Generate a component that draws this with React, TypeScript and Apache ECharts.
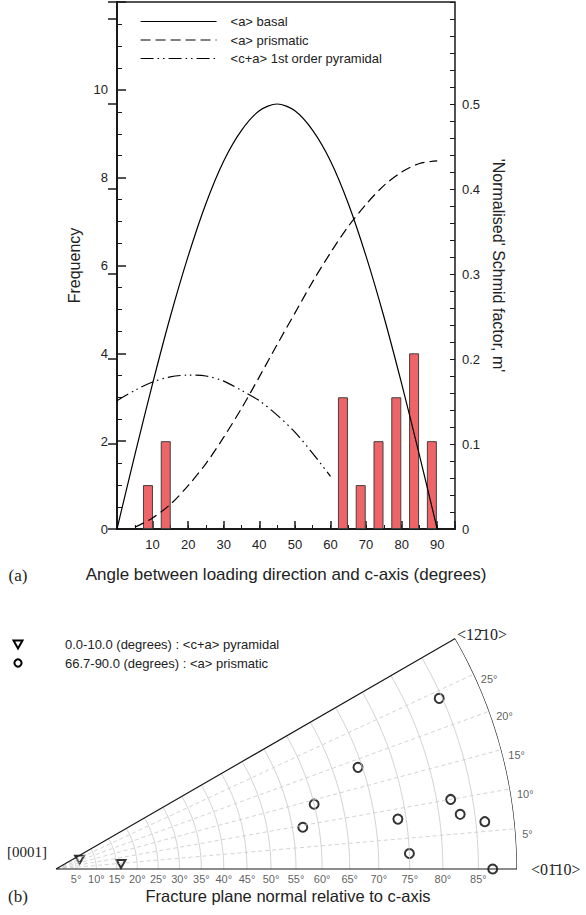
import React, { useEffect, useRef } from 'react';
import * as echarts from 'echarts';

// ---------------- Panel (a): histogram + Schmid factor curves ----------------
const BIN_CENTRES = [8.7, 13.7, 63.5, 68.5, 73.5, 78.5, 83.5, 88.5];
const FREQUENCIES = [1, 2, 3, 1, 2, 3, 4, 2];

const BASAL_ANGLES = [0, 5, 10, 15, 20, 25, 30, 35, 40, 45, 50, 55, 60, 65, 70, 75, 80, 85, 90];
const BASAL_M = [0, 0.087, 0.171, 0.25, 0.321, 0.383, 0.433, 0.469, 0.492, 0.5, 0.492, 0.469, 0.433, 0.383, 0.321, 0.25, 0.171, 0.087, 0];

const PRISMATIC_ANGLES = [5, 10, 15, 20, 25, 30, 35, 40, 45, 50, 55, 60, 65, 70, 75, 80, 85, 90];
const PRISMATIC_M = [0.002, 0.013, 0.029, 0.051, 0.077, 0.108, 0.142, 0.179, 0.217, 0.254, 0.291, 0.325, 0.356, 0.382, 0.404, 0.42, 0.43, 0.433];

const PYRAMIDAL_ANGLES = [0, 5, 10, 15, 20, 25, 30, 35, 40, 45, 50, 55, 60];
const PYRAMIDAL_M = [0.151, 0.163, 0.173, 0.179, 0.181, 0.18, 0.174, 0.163, 0.151, 0.134, 0.114, 0.089, 0.062];

const SERIES_NAMES = ['<a> basal', '<a> prismatic', '<c+a> 1st order pyramidal'];

// ---------------- Panel (b): stereographic sector ----------------
// polar angle from c-axis (theta) and azimuth from <0-110> (phi), degrees
const PYR_THETA = [6.3, 16.1];
const PYR_PHI = [21.7, 4.4];
const PRIS_THETA = [84.6, 69.3, 60.0, 57.0, 73.7, 75.0, 82.0, 83.0, 86.2, 86.9];
const PRIS_PHI = [24.0, 18.6, 14.1, 9.6, 8.3, 2.5, 10.0, 7.7, 6.3, 0.0];

const THETA_GRID = [5, 10, 15, 20, 25, 30, 35, 40, 45, 50, 55, 60, 65, 70, 75, 80, 85];
const PHI_GRID = [5, 10, 15, 20, 25];
const SECTOR_SPAN = 30;

const SANS = '"Liberation Sans", Arial, Helvetica, sans-serif';
const SERIF = '"Liberation Serif", "Times New Roman", serif';
const INK = '#1a1a1a';

// stereographic projection of the polar angle (radius on the unit equator circle)
const stereo = (theta: number) => Math.tan((theta * Math.PI) / 360);

function buildOption() {
  const sweep: number[] = [];
  for (let a = 0; a <= SECTOR_SPAN; a += 1) sweep.push(a);

  const arcSeries = THETA_GRID.map((t) => ({
    type: 'line',
    coordinateSystem: 'polar',
    polarIndex: 0,
    silent: true,
    symbol: 'none',
    lineStyle: { color: '#c8c8c8', width: 0.8 },
    data: sweep.map((a) => [stereo(t), a]),
  }));

  const radialSeries = PHI_GRID.map((p) => ({
    type: 'line',
    coordinateSystem: 'polar',
    polarIndex: 0,
    silent: true,
    symbol: 'none',
    lineStyle: { color: '#c8c8c8', width: 0.8, type: [4, 3] },
    data: [[0, p], [1, p]],
  }));

  const boundary = {
    type: 'line',
    coordinateSystem: 'polar',
    polarIndex: 0,
    silent: true,
    symbol: 'none',
    lineStyle: { color: INK, width: 1.2 },
    data: [[0, 0], ...sweep.map((a) => [1, a]), [0, SECTOR_SPAN]],
  };

  const thetaLabels = {
    type: 'scatter',
    coordinateSystem: 'polar',
    polarIndex: 0,
    silent: true,
    symbolSize: 0,
    itemStyle: { color: '#333' },
    label: {
      show: true,
      position: 'bottom',
      distance: 4,
      formatter: '{b}',
      fontSize: 11,
      fontFamily: SANS,
      color: '#333',
    },
    data: THETA_GRID.map((t) => ({ name: `${t}°`, value: [stereo(t), 0] })),
  };

  const phiLabels = {
    type: 'scatter',
    coordinateSystem: 'polar',
    polarIndex: 0,
    silent: true,
    symbolSize: 0,
    itemStyle: { color: '#333' },
    label: {
      show: true,
      position: 'right',
      distance: 7,
      offset: [0, 5],
      formatter: '{b}',
      fontSize: 11,
      fontFamily: SANS,
      color: '#333',
    },
    data: PHI_GRID.map((p) => ({ name: `${p}°`, value: [1, p] })),
  };

  const pyrPoints = {
    type: 'scatter',
    coordinateSystem: 'polar',
    polarIndex: 0,
    symbol: 'triangle',
    symbolRotate: 180,
    symbolSize: [9, 8],
    itemStyle: { color: '#fff', borderColor: '#000', borderWidth: 2 },
    data: PYR_THETA.map((t, i) => [stereo(t), PYR_PHI[i]]),
  };

  const prisPoints = {
    type: 'scatter',
    coordinateSystem: 'polar',
    polarIndex: 0,
    symbol: 'circle',
    symbolSize: 9,
    itemStyle: { color: '#fff', borderColor: '#000', borderWidth: 2 },
    data: PRIS_THETA.map((t, i) => [stereo(t), PRIS_PHI[i]]),
  };

  const lineBase = {
    type: 'line',
    xAxisIndex: 0,
    yAxisIndex: 1,
    symbol: 'none',
    smooth: 0.3,
    z: 3,
    itemStyle: { color: '#000' },
  };

  const centred = {
    textAlign: 'center',
    align: 'center',
    textVerticalAlign: 'middle',
    verticalAlign: 'middle',
  };

  return {
    animation: false,
    backgroundColor: '#fff',
    textStyle: { fontFamily: SANS },
    grid: {
      left: 117,
      right: 131,
      top: 2,
      bottom: 386,
      show: true,
      borderColor: INK,
      borderWidth: 1.5,
      backgroundColor: 'transparent',
    },
    legend: {
      data: SERIES_NAMES,
      orient: 'vertical',
      left: 135,
      top: 10,
      itemWidth: 76,
      itemHeight: 12,
      itemGap: 5.5,
      itemStyle: { color: 'rgba(0,0,0,0)', borderColor: 'rgba(0,0,0,0)', borderWidth: 0, opacity: 0 },
      lineStyle: { width: 1.1 },
      textStyle: { fontSize: 13, color: '#222', fontFamily: SANS, padding: [0, 0, 0, 9] },
      selectedMode: false,
    },
    xAxis: [
      {
        type: 'value',
        gridIndex: 0,
        min: 0,
        max: 95,
        interval: 10,
        axisLine: { show: true, lineStyle: { color: INK, width: 2 } },
        axisTick: { show: true, inside: true, length: 8, lineStyle: { color: INK, width: 1.5 } },
        splitLine: { show: false },
        axisLabel: {
          formatter: (v: number) => (v === 0 || v > 90 ? '' : String(v)),
          fontSize: 13,
          color: '#222',
          margin: 9,
          fontFamily: SANS,
        },
        name: 'Angle between loading direction and c-axis (degrees)',
        nameLocation: 'middle',
        nameGap: 37,
        nameTextStyle: { fontSize: 17, color: '#222', fontFamily: SANS },
      },
      {
        type: 'value',
        gridIndex: 0,
        min: 0,
        max: 95,
        interval: 5,
        position: 'bottom',
        axisLine: { show: false },
        axisTick: { show: true, inside: true, length: 4, lineStyle: { color: INK, width: 1 } },
        splitLine: { show: false },
        axisLabel: { show: false },
      },
    ],
    yAxis: [
      {
        type: 'value',
        gridIndex: 0,
        position: 'left',
        min: 0,
        max: 12,
        interval: 2,
        axisLine: { show: true, lineStyle: { color: INK, width: 2 } },
        axisTick: { show: true, inside: true, length: 9, lineStyle: { color: INK, width: 1.5 } },
        minorTick: { show: true, splitNumber: 4, length: 5, lineStyle: { color: INK, width: 1 } },
        splitLine: { show: false },
        minorSplitLine: { show: false },
        axisLabel: {
          formatter: (v: number) => (v > 10 ? '' : String(v)),
          fontSize: 13,
          color: '#222',
          margin: 9,
          fontFamily: SANS,
        },
        name: 'Frequency',
        nameLocation: 'middle',
        nameRotate: 90,
        nameGap: 33,
        nameTextStyle: { fontSize: 16, color: '#222', fontFamily: SANS },
      },
      {
        type: 'value',
        gridIndex: 0,
        position: 'right',
        min: 0,
        max: 0.62,
        interval: 0.1,
        axisLine: { show: true, lineStyle: { color: INK, width: 2 } },
        axisTick: { show: true, inside: true, length: 9, lineStyle: { color: INK, width: 1.5 } },
        splitLine: { show: false },
        axisLabel: {
          formatter: (v: number) => (v > 0.55 ? '' : v === 0 ? '0' : v.toFixed(1)),
          fontSize: 13,
          color: '#222',
          margin: 7,
          fontFamily: SANS,
        },
        name: "'Normalised' Schmid factor, m'",
        nameLocation: 'middle',
        nameRotate: -90,
        nameGap: 35,
        nameTextStyle: { fontSize: 16, color: '#222', fontFamily: SANS },
      },
      {
        type: 'value',
        gridIndex: 0,
        position: 'right',
        min: 0,
        max: 0.62,
        interval: 0.02,
        axisLine: { show: false },
        axisTick: { show: true, inside: true, length: 5, lineStyle: { color: INK, width: 1 } },
        splitLine: { show: false },
        axisLabel: { show: false },
      },
    ],
    polar: { center: [56, 869], radius: 461 },
    angleAxis: {
      type: 'value',
      polarIndex: 0,
      min: 0,
      max: 360,
      startAngle: 0,
      clockwise: false,
      show: false,
    },
    radiusAxis: { type: 'value', polarIndex: 0, min: 0, max: 1, show: false },
    graphic: [
      {
        type: 'polygon',
        shape: { points: [[13.5, 640.5], [22.5, 640.5], [18, 648.5]] },
        style: { fill: '#fff', stroke: '#000', lineWidth: 2 },
      },
      {
        type: 'circle',
        shape: { cx: 18, cy: 663, r: 3.6 },
        style: { fill: '#fff', stroke: '#000', lineWidth: 2 },
      },
      {
        type: 'text',
        x: 65,
        y: 644,
        style: {
          text: '0.0-10.0 (degrees) : <c+a> pyramidal',
          fontSize: 13,
          fontFamily: SANS,
          fill: '#222',
          textVerticalAlign: 'middle',
          verticalAlign: 'middle',
        },
      },
      {
        type: 'text',
        x: 65,
        y: 663,
        style: {
          text: '66.7-90.0 (degrees) : <a> prismatic',
          fontSize: 13,
          fontFamily: SANS,
          fill: '#222',
          textVerticalAlign: 'middle',
          verticalAlign: 'middle',
        },
      },
      {
        type: 'text',
        x: 482,
        y: 634,
        style: { text: '<12\u030410>', fontSize: 16, fontFamily: SERIF, fill: '#222', ...centred },
      },
      {
        type: 'text',
        x: 531,
        y: 869,
        style: {
          text: '<01\u030410>',
          fontSize: 16,
          fontFamily: SERIF,
          fill: '#222',
          textVerticalAlign: 'middle',
          verticalAlign: 'middle',
        },
      },
      {
        type: 'text',
        x: 27,
        y: 852,
        style: { text: '[0001]', fontSize: 15, fontFamily: SERIF, fill: '#222', ...centred },
      },
      {
        type: 'text',
        x: 18,
        y: 575,
        style: { text: '(a)', fontSize: 17, fontFamily: SERIF, fill: '#222', ...centred },
      },
      {
        type: 'text',
        x: 18,
        y: 896,
        style: { text: '(b)', fontSize: 17, fontFamily: SERIF, fill: '#222', ...centred },
      },
      {
        type: 'text',
        x: 288,
        y: 896,
        style: {
          text: 'Fracture plane normal relative to c-axis',
          fontSize: 16.5,
          fontFamily: SANS,
          fill: '#222',
          ...centred,
        },
      },
    ],
    series: [
      {
        type: 'bar',
        name: 'Frequency',
        xAxisIndex: 0,
        yAxisIndex: 0,
        barWidth: 10,
        itemStyle: { color: '#ef6467', borderColor: '#404040', borderWidth: 1 },
        data: BIN_CENTRES.map((c, i) => [c, FREQUENCIES[i]]),
        z: 2,
      },
      {
        ...lineBase,
        name: SERIES_NAMES[0],
        lineStyle: { color: '#000', width: 1.2, type: 'solid' },
        data: BASAL_ANGLES.map((a, i) => [a, BASAL_M[i]]),
      },
      {
        ...lineBase,
        name: SERIES_NAMES[1],
        lineStyle: { color: '#000', width: 1.2, type: [10, 5] },
        data: PRISMATIC_ANGLES.map((a, i) => [a, PRISMATIC_M[i]]),
      },
      {
        ...lineBase,
        name: SERIES_NAMES[2],
        lineStyle: { color: '#000', width: 1.2, type: [13, 4, 1.5, 4, 1.5, 4] },
        data: PYRAMIDAL_ANGLES.map((a, i) => [a, PYRAMIDAL_M[i]]),
      },
      ...arcSeries,
      ...radialSeries,
      boundary,
      thetaLabels,
      phiLabels,
      pyrPoints,
      prisPoints,
    ],
  };
}

export default function App() {
  const ref = useRef<HTMLDivElement>(null);
  useEffect(() => {
    document.body.style.margin = '0';
    const chart = echarts.init(ref.current as HTMLDivElement, null, { renderer: 'svg' });
    chart.setOption(buildOption() as any);
    return () => chart.dispose();
  }, []);
  return <div ref={ref} style={{ width: 586, height: 915 }} />;
}
